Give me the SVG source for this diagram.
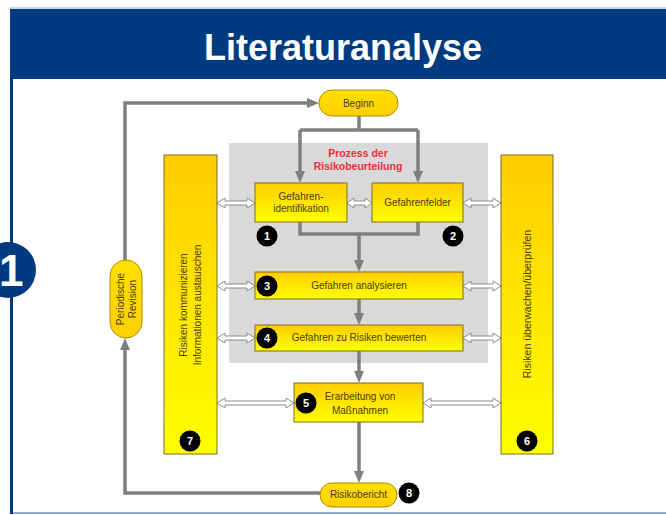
<svg xmlns="http://www.w3.org/2000/svg" width="666" height="515" viewBox="0 0 666 515">
<defs>
<linearGradient id="gy" x1="0" y1="0" x2="0" y2="1"><stop offset="0" stop-color="#ffcc00"/><stop offset="1" stop-color="#ffff00"/></linearGradient>
<linearGradient id="gp" x1="0" y1="0" x2="0" y2="1"><stop offset="0" stop-color="#ffe000"/><stop offset="1" stop-color="#ffd000"/></linearGradient>
<marker id="ah" markerUnits="userSpaceOnUse" markerWidth="12" markerHeight="12" viewBox="0 0 12 12" refX="6" refY="6" orient="auto"><path d="M0,1 L12,6 L0,11 Z" fill="#7f7f7f"/></marker>
<style>
.box{fill:url(#gy);stroke:#7d6d28;stroke-width:1}
.pill{fill:url(#gp);stroke:#b08a00;stroke-width:1}
.t{font-family:"Liberation Sans",Arial,sans-serif;font-size:10px;fill:#4a3c10;text-anchor:middle}
.num{fill:#000}
.nt{font-family:"Liberation Sans",Arial,sans-serif;font-size:11px;font-weight:bold;fill:#fff;text-anchor:middle}
.con{fill:none;stroke:#7f7f7f;stroke-width:3.5}
.dbl{fill:#fff;stroke:#8c8c8c;stroke-width:1}
</style>
</defs>
<rect x="0" y="0" width="666" height="515" fill="#fff"/>
<g id="header">
<line x1="10" y1="8" x2="666" y2="8" stroke="#b8c8dc" stroke-width="1.5"/>
<rect x="10" y="9" width="656" height="70" fill="#003a80"/>
<text x="343" y="60" font-family="Liberation Sans,Arial,sans-serif" font-size="36" font-weight="bold" fill="#fff" text-anchor="middle">Literaturanalyse</text>
<rect x="10" y="79" width="3" height="435" fill="#003a80"/>
<line x1="13" y1="513" x2="666" y2="513" stroke="#8eaad0" stroke-width="2"/>
<circle cx="8" cy="270" r="28" fill="#003a80"/>
<text x="-1" y="286" font-family="Liberation Sans,Arial,sans-serif" font-size="44" font-weight="bold" fill="#fff">1</text>
</g>
<g id="region">
<rect x="229" y="143" width="259" height="220" fill="#d9d9d9"/>
<text x="358" y="157" font-family="Liberation Sans,Arial,sans-serif" font-size="10.5" font-weight="bold" fill="#e8303a" text-anchor="middle">Prozess der</text>
<text x="358" y="170" font-family="Liberation Sans,Arial,sans-serif" font-size="10.5" font-weight="bold" fill="#e8303a" text-anchor="middle">Risikobeurteilung</text>
</g>
<g id="connectors">
<path class="con" d="M359,116 V130"/>
<path class="con" d="M300,130 H418"/>
<path class="con" d="M300,130 V177" marker-end="url(#ah)"/>
<path class="con" d="M418,130 V177" marker-end="url(#ah)"/>
<path class="con" d="M300,222 V234 H418 V222"/>
<path class="con" d="M359,234 V266" marker-end="url(#ah)"/>
<path class="con" d="M359,299 V319" marker-end="url(#ah)"/>
<path class="con" d="M359,351 V377" marker-end="url(#ah)"/>
<path class="con" d="M359,422 V477" marker-end="url(#ah)"/>
<path class="con" d="M320,493 H125 V344" marker-end="url(#ah)"/>
<path class="con" d="M125,260 V103 H313" marker-end="url(#ah)"/>
<path class="dbl" d="M217,203 L225,198 L225,201 L247,201 L247,198 L255,203 L247,208 L247,205 L225,205 L225,208 Z"/>
<path class="dbl" d="M347,203 L354,198 L354,201 L365,201 L365,198 L372,203 L365,208 L365,205 L354,205 L354,208 Z"/>
<path class="dbl" d="M463,203 L471,198 L471,201 L493,201 L493,198 L501,203 L493,208 L493,205 L471,205 L471,208 Z"/>
<path class="dbl" d="M217,286 L225,281 L225,284 L247,284 L247,281 L255,286 L247,291 L247,288 L225,288 L225,291 Z"/>
<path class="dbl" d="M463,286 L471,281 L471,284 L493,284 L493,281 L501,286 L493,291 L493,288 L471,288 L471,291 Z"/>
<path class="dbl" d="M217,338 L225,333 L225,336 L247,336 L247,333 L255,338 L247,343 L247,340 L225,340 L225,343 Z"/>
<path class="dbl" d="M463,338 L471,333 L471,336 L493,336 L493,333 L501,338 L493,343 L493,340 L471,340 L471,343 Z"/>
<path class="dbl" d="M217,403 L225,398 L225,401 L286,401 L286,398 L294,403 L286,408 L286,405 L225,405 L225,408 Z"/>
<path class="dbl" d="M423,403 L431,398 L431,401 L493,401 L493,398 L501,403 L493,408 L493,405 L431,405 L431,408 Z"/>
</g>
<g id="beginn">
<rect class="pill" x="319" y="90" width="79" height="26" rx="13"/>
<text class="t" x="358.5" y="107">Beginn</text>
</g>
<g id="ident">
<rect class="box" x="255" y="183" width="92" height="39"/>
<text class="t" x="301" y="200">Gefahren-</text>
<text class="t" x="301" y="212">identifikation</text>
<circle class="num" cx="267" cy="236" r="10.5"/>
<text class="nt" x="267" y="240">1</text>
</g>
<g id="felder">
<rect class="box" x="372" y="183" width="91" height="39"/>
<text class="t" x="417.5" y="206">Gefahrenfelder</text>
<circle class="num" cx="453" cy="236" r="10.5"/>
<text class="nt" x="453" y="240">2</text>
</g>
<g id="analysieren">
<rect class="box" x="255" y="272" width="208" height="27"/>
<text class="t" x="359" y="289">Gefahren analysieren</text>
<circle class="num" cx="267" cy="286" r="10.5"/>
<text class="nt" x="267" y="290">3</text>
</g>
<g id="bewerten">
<rect class="box" x="255" y="325" width="208" height="26"/>
<text class="t" x="359" y="341">Gefahren zu Risiken bewerten</text>
<circle class="num" cx="267" cy="338" r="10.5"/>
<text class="nt" x="267" y="342">4</text>
</g>
<g id="massnahmen">
<rect class="box" x="294" y="383" width="129" height="39"/>
<text class="t" x="360" y="400">Erarbeitung von</text>
<text class="t" x="360" y="414">Maßnahmen</text>
<circle class="num" cx="306" cy="403" r="10.5"/>
<text class="nt" x="306" y="407">5</text>
</g>
<g id="ueberwachen">
<rect class="box" x="501" y="155" width="52" height="299"/>
<text class="t" transform="translate(527,304) rotate(-90)" x="0" y="4" style="font-size:10.5px">Risiken überwachen/überprüfen</text>
<circle class="num" cx="527" cy="441" r="10.5"/>
<text class="nt" x="527" y="445">6</text>
</g>
<g id="kommunizieren">
<rect class="box" x="164" y="155" width="53" height="299"/>
<text class="t" transform="translate(190,305) rotate(-90)" x="0" y="-3">Risiken kommunizieren</text>
<text class="t" transform="translate(190,305) rotate(-90)" x="0" y="11">Informationen austauschen</text>
<circle class="num" cx="190" cy="441" r="10.5"/>
<text class="nt" x="190" y="445">7</text>
</g>
<g id="risikobericht">
<rect class="pill" x="320" y="483" width="77" height="24" rx="12"/>
<text class="t" x="358.5" y="498">Risikobericht</text>
<circle class="num" cx="409" cy="493" r="10.5"/>
<text class="nt" x="409" y="497">8</text>
</g>
<g id="revision">
<rect class="pill" x="110" y="260" width="32" height="78" rx="16"/>
<text class="t" transform="translate(126,299) rotate(-90)" x="0" y="-2">Periodische</text>
<text class="t" transform="translate(126,299) rotate(-90)" x="0" y="10">Revision</text>
</g>
</svg>
